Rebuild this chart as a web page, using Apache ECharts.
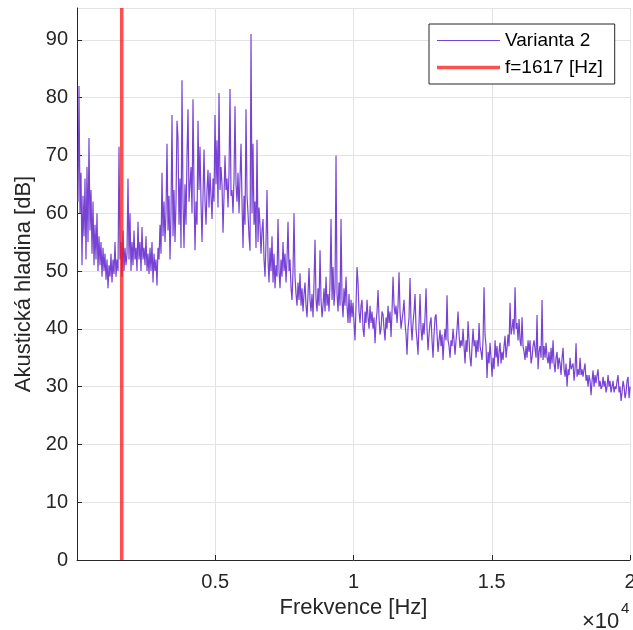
<!DOCTYPE html>
<html>
<head>
<meta charset="utf-8">
<script src="https://cdn.jsdelivr.net/npm/echarts@6/dist/echarts.min.js"></script>
<style>
html,body{margin:0;padding:0;background:#fff;}
#chart{width:633px;height:630px;}
</style>
</head>
<body>
<div id="chart"></div>
<script>
// Spectrum sampling grid (Hz)
const freqStart = 36;
const freqStep = 36.17;
// Acoustic level [dB], one value per sample
const levelDb = [
62,82,60,67,51,63,56,66,52,68,
55,73,57,64,53,62,51,58,52,60,
50,56,51,55,49,54,50,53,48.5,52,
47,51,49,53,48,52,49.5,55,49,52,
50,71.5,52,55,49,57,50,54,51,53,
66,52,60,50,55,51,57,52,54,50,
58.5,52,55,50,57.6,52,54,51,56,50,
53,49.5,54,50,55,48,53,50,52,47.5,
54,52,58,53,67,56,62,55,60,72,
57,63,52,60,77,56,64,55,62,76,
73,58,66,54,83,62,54,65,58,70,
78,62,62,68,60,79.7,64,53.6,62,58,
76,64,71.5,62,55,63,71,62,58,64,
67.5,61,67,63,59,66,62,77,65,72.6,
61,80.8,64,68,65,56.6,63,70,64,66,
61,67,81.5,63,64,60,66,78.5,65,62,
67,60,66,72,62,54,63,58,78,63,
60,56,53.5,91,60,72,58,62,54,72.7,
55,61,58,53,57,59,52,49,55,64,
52,48,54,50,56,48,53,47,51,49,
59,50,47,52,49,55,50,53,48,52,
58.5,50,52,47,45,50,60,49,46,44,
48,45,49.6,44,47,43,46,48,44,42,
46,50.5,45,43,46,42,48,55.4,45,43,
47,44,53.6,45,42,44,47,43,49,44,
46,43,48,59,45,50.7,44,47,70,46,
43,48,44,59,45,42,47,44,49,44,
41,46,41,45,42,44.5,41,38,44,50.7,
48,43,41,44,45,40,38.6,43,41,45,
42,40,44,41,43,40,42,37.5,41,43,
46.7,42,39,40,43,42.5,40,38,42,40,
44,41,43,38.6,43,49,44,42.5,44,41,
44,49.8,43,40,41.5,43,45,41,39,35.5,
40,42,48.8,41,38,41,43,46,40,38,
35.5,41,46,40,38,41,39,42,47,40,
36.3,39,41,42,38,35,39,42,42.5,39,
36,38,39.8,37,39,34.6,38,40,38,45.8,
38,37,35,38,37,40,38,35.5,38,40,
43,39,36.7,38,37,40,37,34,38,36,
41.3,38,35,33.5,37,40,37,38,35,38,
36,41,37,36,34.6,38,47.2,39,37,31.5,
36,34,37.6,35,31.7,35,33,38,35,37,
33.5,36,37.6,34,36,34.6,37,38.8,35,36.7,
39,37,44.5,39,40,41.7,39,47.2,40,41,
38,41.7,38,37,42,37,36,34.6,37,35,
38,36,38,34,35,37,38,38,35,42.4,
33,36,37,35,45,34.6,37,35,37.6,35,
34,36,33,36.7,34,38,34,32.5,35,36,
33,35,34,32,35,36.7,33,31.7,34,30,
33,32,35,33,32.8,34,31,33,37.5,31.7,
33,32,35,32,33,31.7,33,34,31,32,
30,32,31,28.5,31,32.8,30,32,30.6,32,
33,30,31,29.6,30,31.7,30,31,29,30,
32,30,31,29,30,31,29,30,29.6,31,
32,29,30,27.5,29,31,30,28,29,31,
31.7,28,30
];
const markerFreq = 1617;
const seriesNames = ['Varianta 2', 'f=1617 [Hz]'];
const xTicks = [5000, 10000, 15000, 20000];
const yMax = 95.5;

const spectrum = levelDb.map((v, i) => [freqStart + i * freqStep, v]);
const markerLine = [[markerFreq, 0], [markerFreq, yMax]];

const purple = '#7843d4';
const red = 'rgba(255,20,20,0.75)';
const chart = echarts.init(document.getElementById('chart'), null, {renderer: 'canvas'});
const txt = '#262626';
const font = 'Liberation Sans, Arial, Helvetica, sans-serif';
chart.setOption({
  animation: false,
  backgroundColor: '#fff',
  textStyle: {fontFamily: font},
  grid: {left: 77, right: 3, top: 8, bottom: 70, containLabel: false, outerBoundsMode: 'none'},
  legend: {
    orient: 'vertical', left: 429, top: 24,
    padding: [6, 12, 6, 8], itemGap: 6,
    itemWidth: 63, itemHeight: 20,
    backgroundColor: '#fff', borderColor: '#262626', borderWidth: 1, borderRadius: 0,
    textStyle: {fontSize: 19, color: '#000', lineHeight: 21, fontFamily: font},
    data: [
      {name: seriesNames[0], icon: 'path://M0 0H630V12H0Z', itemStyle: {color: purple}},
      {name: seriesNames[1], icon: 'path://M0 0H630V35H0Z', itemStyle: {color: red}}
    ]
  },
  xAxis: {
    type: 'value', min: 0, max: 20000, interval: 5000,
    name: 'Frekvence [Hz]', nameLocation: 'middle', nameGap: 36,
    nameTextStyle: {fontSize: 22, color: txt, fontFamily: font},
    axisLine: {show: true, onZero: false, lineStyle: {color: txt, width: 1}},
    axisTick: {show: true, inside: true, length: 5, lineStyle: {color: txt}},
    axisLabel: {
      fontSize: 20, color: txt, margin: 12, fontFamily: font, hideOverlap: false,
      formatter: v => (xTicks.indexOf(v) >= 0 ? String(v / 10000) : '')
    },
    splitLine: {show: true, lineStyle: {color: '#e3e3e3', width: 1}}
  },
  yAxis: {
    type: 'value', min: 0, max: yMax, interval: 10,
    name: 'Akustická hladina [dB]', nameLocation: 'middle', nameGap: 42,
    nameTextStyle: {fontSize: 22, color: txt, fontFamily: font},
    axisLine: {show: true, lineStyle: {color: txt, width: 1}},
    axisTick: {show: true, inside: true, length: 5, lineStyle: {color: txt}},
    axisLabel: {fontSize: 20, color: txt, margin: 9, fontFamily: font, showMaxLabel: false,
      formatter: v => (v <= 90 ? String(v) : '')},
    splitLine: {show: true, lineStyle: {color: '#e3e3e3', width: 1}}
  },
  series: [
    {
      name: seriesNames[0], type: 'line', data: spectrum,
      symbol: 'none', showSymbol: false,
      lineStyle: {color: purple, width: 1.2},
      itemStyle: {color: purple},
      z: 2
    },
    {
      name: seriesNames[1], type: 'line', data: markerLine,
      symbol: 'none', showSymbol: false,
      lineStyle: {color: red, width: 3.5},
      itemStyle: {color: red},
      z: 3
    }
  ],
  graphic: [
    {type: 'text', left: 582, top: 611, style: {text: '×10', fontSize: 22, fill: txt, fontFamily: font}},
    {type: 'text', left: 621, top: 601, style: {text: '4', fontSize: 15, fill: txt, fontFamily: font}}
  ]
});
</script>
</body>
</html>
